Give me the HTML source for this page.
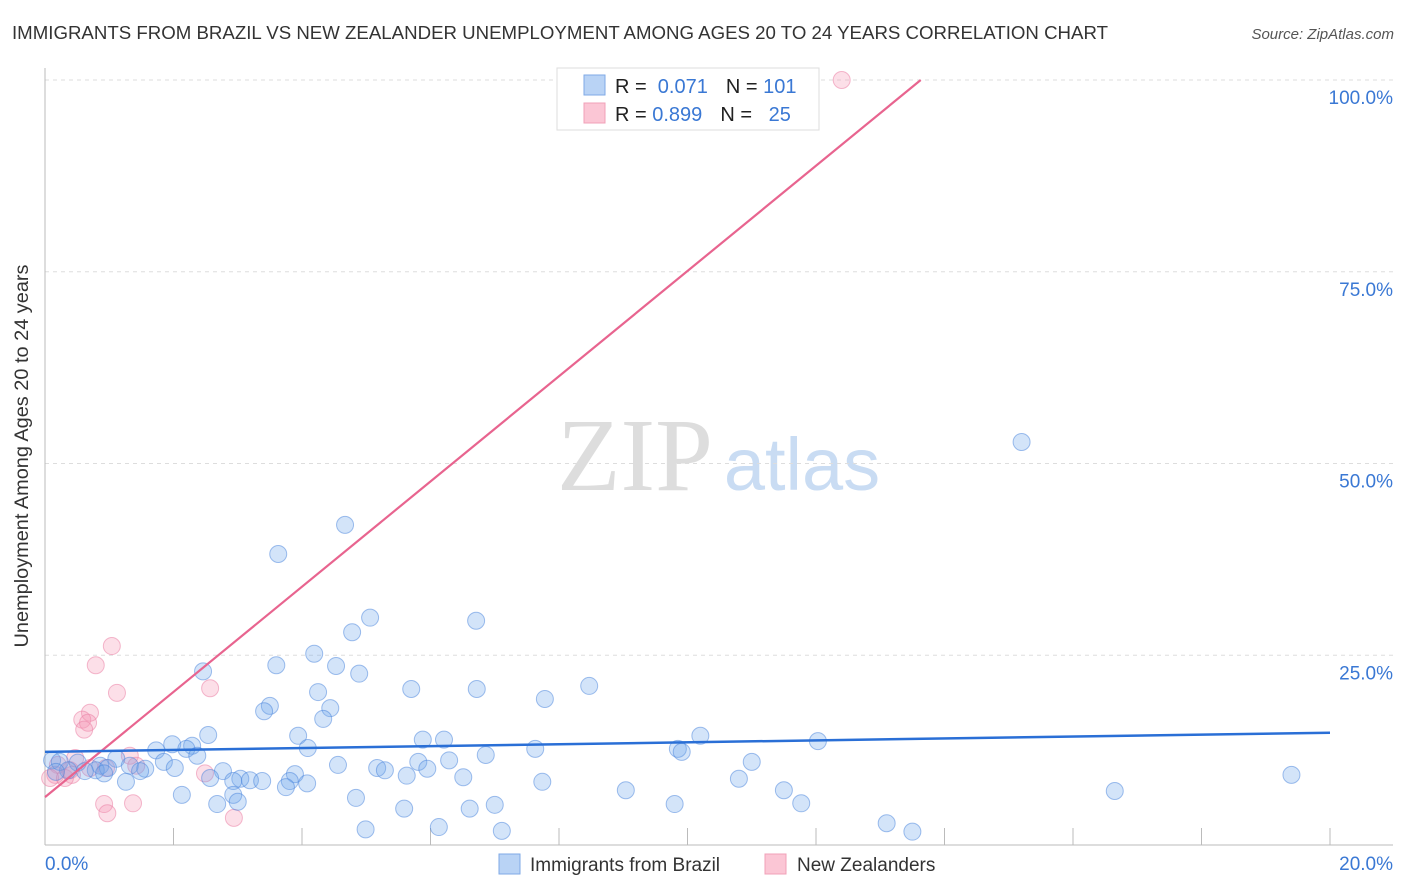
<!DOCTYPE html>
<html><head><meta charset="utf-8"><style>
body{margin:0;background:#fff;font-family:"Liberation Sans",sans-serif}
svg{display:block}
</style></head><body>
<svg id="c" width="1406" height="892" xmlns="http://www.w3.org/2000/svg">
<text x="12" y="39" font-size="18.5" fill="#333" textLength="1096" lengthAdjust="spacingAndGlyphs">IMMIGRANTS FROM BRAZIL VS NEW ZEALANDER UNEMPLOYMENT AMONG AGES 20 TO 24 YEARS CORRELATION CHART</text>
<text x="1394" y="39" font-size="15" fill="#555" font-style="italic" text-anchor="end">Source: ZipAtlas.com</text>
<text x="28" y="456" font-size="19" fill="#333" text-anchor="middle" textLength="383" lengthAdjust="spacingAndGlyphs" transform="rotate(-90 28 456)">Unemployment Among Ages 20 to 24 years</text>
<g><text x="635" y="490" font-size="104" font-family="Liberation Serif" fill="#ddd" text-anchor="middle">ZIP</text><text x="802" y="490" font-size="74" fill="#c9dcf3" text-anchor="middle">atlas</text></g>
<g id="grid"></g><g id="axes"></g><g id="marks"></g>
<g>
<rect x="557" y="68" width="262" height="62" fill="#fff" stroke="#ddd"/>
<rect x="584" y="75" width="21" height="20" fill="#b9d3f5" stroke="#7fa9e6"/>
<rect x="584" y="103" width="21" height="20" fill="#fbc6d5" stroke="#f0a0b8"/>
<text x="615" y="93" font-size="20" fill="#222">R = <tspan fill="#3a78d4">&#160;0.071</tspan><tspan dx="18">N = </tspan><tspan fill="#3a78d4">101</tspan></text>
<text x="615" y="121" font-size="20" fill="#222">R = <tspan fill="#3a78d4">0.899</tspan><tspan dx="18">N = </tspan><tspan fill="#3a78d4">&#160;&#160;25</tspan></text>
</g>
<g>
<rect x="499" y="854" width="21" height="20" fill="#b9d3f5" stroke="#7fa9e6"/>
<text x="530" y="871" font-size="19" fill="#333">Immigrants from Brazil</text>
<rect x="765" y="854" width="21" height="20" fill="#fbc6d5" stroke="#f0a0b8"/>
<text x="797" y="871" font-size="19" fill="#333">New Zealanders</text>
</g>
</svg>
<script>
const yTicks=[25,50,75,100];
const yTickLabels=["25.0%","50.0%","75.0%","100.0%"];
const xTickLabels=["0.0%","20.0%"];
const brazilX=[15.2,4.67,3.63,5.06,4.78,6.71,4.19,3.6,4.53,2.46,4.89,8.47,5.7,6.72,4.25,7.78,3.5,3.41,4.44,4.33,2.54,3.94,10.2,12.03,5.88,6.21,1.98,2.29,1.73,2.2,4.09,7.63,9.85,9.91,6.86,2.37,1.11,1.85,5.81,6.29,11.0,4.56,0.11,0.23,0.51,0.86,1.32,1.56,2.02,0.79,0.98,1.48,0.36,5.17,5.29,5.95,2.77,2.57,3.89,5.63,6.51,19.4,3.04,3.19,3.38,2.93,3.81,4.08,1.26,10.8,7.74,3.75,11.5,9.04,16.65,2.13,2.93,4.84,3.0,2.68,7.0,9.8,11.77,5.59,6.61,13.1,4.99,6.13,7.11,13.5,0.92,0.62,0.17];
const brazilY=[52.8,42.0,38.2,29.9,28.0,29.5,25.2,23.7,23.6,22.9,22.6,21.0,20.6,20.6,20.2,19.3,18.4,17.7,18.1,16.7,14.6,14.5,14.5,13.8,14.0,14.0,13.4,13.2,12.6,12.8,12.9,12.8,12.8,12.4,12.0,11.9,11.5,11.1,11.1,11.3,11.1,10.7,11.3,11.1,11.0,10.6,10.6,10.2,10.3,10.0,10.3,9.9,10.0,10.3,10.0,10.2,9.9,9.0,9.5,9.3,9.1,9.4,8.9,8.7,8.6,8.6,8.6,8.3,8.5,8.9,8.5,7.8,7.4,7.4,7.3,6.8,6.8,6.4,5.9,5.6,5.5,5.6,5.7,5.0,5.0,3.1,2.3,2.6,2.1,2.0,9.6,9.9,9.8];
const nzX=[12.4,1.04,0.79,1.12,2.57,0.7,0.58,0.67,0.61,1.32,0.47,0.2,0.7,1.42,2.49,0.42,0.16,0.08,0.31,0.95,0.92,0.97,1.37,2.94,0.39];
const nzY=[100,26.2,23.7,20.1,20.7,17.5,16.6,16.2,15.3,11.9,11.6,10.7,10.3,10.6,9.6,9.4,9.4,9.0,9.0,10.3,5.6,4.4,5.7,3.8,10.0];
const brazilTrend=[12.4,14.9];   // y at x=0 and x=20
const nzTrend=[6.5,6.86];        // intercept, slope
const NS="http://www.w3.org/2000/svg";
const X=v=>45+v*64.25, Y=v=>847-v*7.67;
function mk(p,t,a){const e=document.createElementNS(NS,t);for(const k in a)e.setAttribute(k,a[k]);p.appendChild(e);return e;}
const grid=document.getElementById('grid'),axes=document.getElementById('axes'),marks=document.getElementById('marks');
yTicks.forEach((t,i)=>{
 const l=mk(grid,'line',{x1:45,x2:1393,y1:Y(t),y2:Y(t),stroke:'#ddd','stroke-dasharray':'4 4'});
 
 
 const tx=mk(axes,'text',{x:1393,y:Y(t)+24,'font-size':19,fill:'#3a78d4','text-anchor':'end'});
 tx.textContent=yTickLabels[i];
 
 
});
let a=mk(axes,'line',{x1:45,x2:45,y1:68,y2:845,stroke:'#bbb'});

a=mk(axes,'line',{x1:45,x2:1393,y1:845,y2:845,stroke:'#bbb'});

for(let i=1;i<=10;i++){const t=mk(axes,'line',{x1:X(i*2),x2:X(i*2),y1:828,y2:845,stroke:'#bbb'});
 
 }
[[0,'start',45],[20,'end',1393]].forEach((d,i)=>{const t=mk(axes,'text',{x:d[2],y:870,'font-size':19,fill:'#3a78d4','text-anchor':d[1]});t.textContent=xTickLabels[i];
 
 });
nzX.forEach((x,i)=>{const c=mk(marks,'circle',{cx:X(x),cy:Y(nzY[i]),r:8.5,fill:'rgba(245,150,180,0.3)',stroke:'rgba(235,130,165,0.55)','stroke-width':1});
 
 });
brazilX.forEach((x,i)=>{const c=mk(marks,'circle',{cx:X(x),cy:Y(brazilY[i]),r:8.5,fill:'rgba(110,165,235,0.3)',stroke:'rgba(70,130,220,0.5)','stroke-width':1});
 
 });
const xe=(100-nzTrend[0])/nzTrend[1];
let tl=mk(marks,'line',{x1:X(0),y1:Y(nzTrend[0]),x2:X(xe),y2:Y(100),stroke:'#e8648f','stroke-width':2.2});

tl=mk(marks,'line',{x1:X(0),y1:Y(brazilTrend[0]),x2:X(20),y2:Y(brazilTrend[1]),stroke:'#2a6fd6','stroke-width':2.5});

</script>
</body></html>
